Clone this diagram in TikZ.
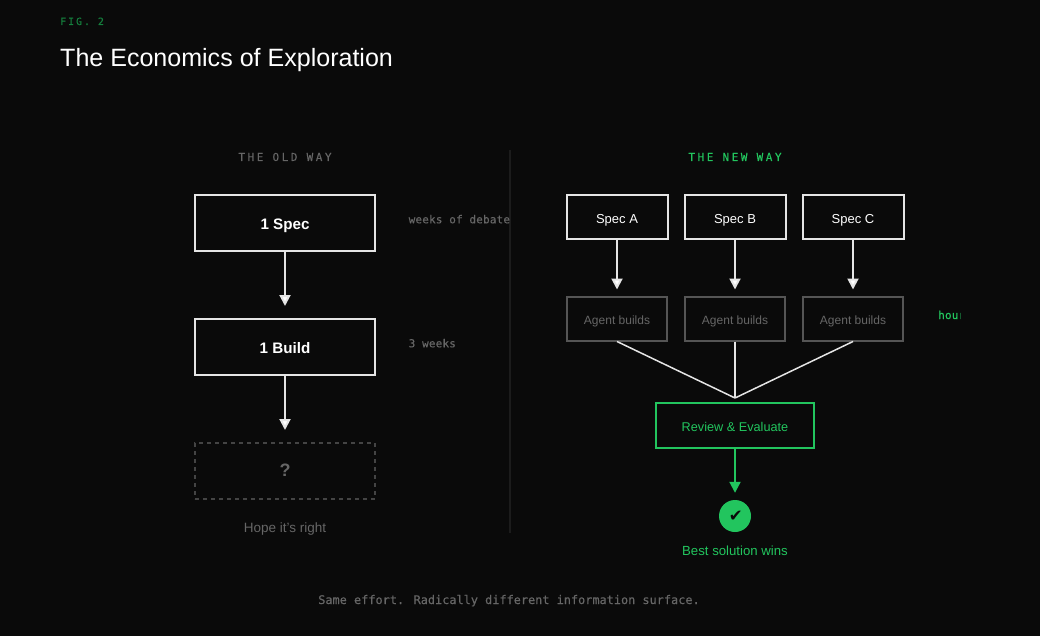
\documentclass[tikz,border=0pt]{standalone}
\usepackage{fontspec}
\usetikzlibrary{arrows.meta}
\setmainfont{Liberation Sans}
\newfontfamily\monofig[LetterSpace=19,FakeBold=0.25]{DejaVu Sans Mono}
\newfontfamily\monohead[LetterSpace=23,FakeBold=0.25]{DejaVu Sans Mono}
\newfontfamily\mononote[LetterSpace=1.5,FakeBold=0.25]{DejaVu Sans Mono}
\newfontfamily\monofoot[FakeBold=0.25]{DejaVu Sans Mono}
\newfontfamily\checkfont{DejaVu Sans}
\definecolor{pagebg}{HTML}{0A0A0A}
\definecolor{linelight}{HTML}{E5E5E5}
\definecolor{textgrey}{HTML}{666666}
\definecolor{boxgrey}{HTML}{555555}
\definecolor{dashgrey}{HTML}{444444}
\definecolor{divgrey}{HTML}{1C1C1C}
\definecolor{wingreen}{HTML}{22C55E}
\definecolor{figgreen}{HTML}{15803D}
\tikzset{
  bigbox/.style={draw=linelight,line width=2pt,minimum width=180pt,minimum height=56pt,inner sep=0pt,text height=12.6pt,text depth=0pt,text=white,font=\fontsize{15.2}{18}\bfseries\selectfont},
  specbox/.style={draw=linelight,line width=2pt,minimum width=101pt,minimum height=44pt,inner sep=0pt,text height=11.6pt,text depth=0pt,text=white,font=\fontsize{13}{15}\selectfont},
  agentbox/.style={draw=boxgrey,line width=2pt,minimum width=100pt,minimum height=44pt,inner sep=0pt,text height=11.6pt,text depth=0pt,text=textgrey,font=\fontsize{12}{14}\selectfont},
  dashbox/.style={draw=dashgrey,line width=2pt,dash pattern=on 4pt off 4pt,minimum width=180pt,minimum height=56pt,inner sep=0pt,text height=10pt,text depth=0pt,text=textgrey,font=\fontsize{18}{20}\bfseries\selectfont},
  reviewbox/.style={draw=wingreen,line width=2pt,minimum width=157.5pt,minimum height=45pt,inner sep=0pt,text height=11pt,text depth=0pt,text=wingreen,font=\fontsize{12.7}{15}\selectfont},
  flow/.style={draw=linelight,line width=2pt,-{Triangle[width=11pt,length=11pt,fill=white]}},
  flowgreen/.style={draw=wingreen,line width=2pt,-{Triangle[width=11pt,length=11pt,fill=wingreen]}},
  merge/.style={draw=linelight,line width=1.5pt},
  plainlabel/.style={inner sep=0pt,anchor=base,text=textgrey,font=\fontsize{13.5}{15}\selectfont},
  notelabel/.style={inner sep=0pt,anchor=base west,text=textgrey,font=\mononote\fontsize{11}{13}\selectfont},
  headlabel/.style={inner sep=0pt,anchor=base,font=\monohead\fontsize{11}{13}\selectfont},
}
\begin{document}
\begin{tikzpicture}[x=1pt,y=-1pt]
\useasboundingbox (0,0) rectangle (1040,636);
\fill[pagebg] (0,0) rectangle (1040,636);

\node[inner sep=0pt,anchor=base west,text=figgreen,font=\monofig\fontsize{10}{12}\selectfont] (figlabel) at (60,25) {FIG. 2};
\node[inner sep=0pt,anchor=base west,text=white,font=\fontsize{25.05}{28}\selectfont] (title) at (60,66.7) {The Economics of Exploration};

\node[headlabel,text=textgrey] (oldhead) at (285,161) {THE OLD WAY};
\node[headlabel,text=wingreen] (newhead) at (735,161) {THE NEW WAY};

\coordinate (divtop) at (510,150);
\coordinate (divbot) at (510,533);
\draw[divgrey,line width=2pt] (divtop) -- (divbot);

\node[bigbox] (onespec) at (285,223) {1 Spec};
\node[bigbox] (onebuild) at (285,347) {1 Build};
\node[dashbox] (unknown) at (285,471) {?};
\node[plainlabel] (hope) at (285,532.7) {Hope it's right};
\node[notelabel] (debate) at (408.5,223.3) {weeks of debate};
\node[notelabel] (weeks) at (408.5,347.3) {3 weeks};

\draw[flow,shorten >=12pt] (onespec) -- (onebuild);
\draw[flow,shorten >=12pt] (onebuild) -- (unknown);

\node[specbox] (speca) at (617,217.3) {Spec A};
\node[specbox] (specb) at (735,217.3) {Spec B};
\node[specbox] (specc) at (853,217.3) {Spec C};
\node[agentbox] (agenta) at (617,318.5) {Agent builds};
\node[agentbox] (agentb) at (735,318.5) {Agent builds};
\node[agentbox] (agentc) at (853,318.5) {Agent builds};
\begin{scope}
\clip (930,300) rectangle (960.5,330);
\node[inner sep=0pt,anchor=base west,text=wingreen,font=\mononote\fontsize{11}{13}\selectfont] (hours) at (938,319) {hours};
\end{scope}

\draw[flow,shorten >=6pt] (speca) -- (agenta);
\draw[flow,shorten >=6pt] (specb) -- (agentb);
\draw[flow,shorten >=6pt] (specc) -- (agentc);

\coordinate (join) at (735,398);
\draw[merge] (agenta.south) -- (join);
\draw[merge] (agentb.south) -- (join);
\draw[merge] (agentc.south) -- (join);

\node[reviewbox] (review) at (735,425.5) {Review \& Evaluate};
\node[circle,fill=wingreen,minimum size=32pt,inner sep=0pt,text=pagebg,font=\checkfont\fontsize{16.5}{18}\selectfont] (winner) at (735,516) {\hspace{1.5pt}✔};
\node[plainlabel,text=wingreen,font=\fontsize{13.2}{15}\selectfont] (best) at (735,555) {Best solution wins};
\draw[flowgreen,shorten >=7pt] (review) -- (winner);

\node[inner sep=0pt,anchor=base,text=textgrey,font=\monofoot\fontsize{11.88}{14}\selectfont] (footer) at (509,604) {Same effort. Radically different information surface.};
\end{tikzpicture}
\end{document}
